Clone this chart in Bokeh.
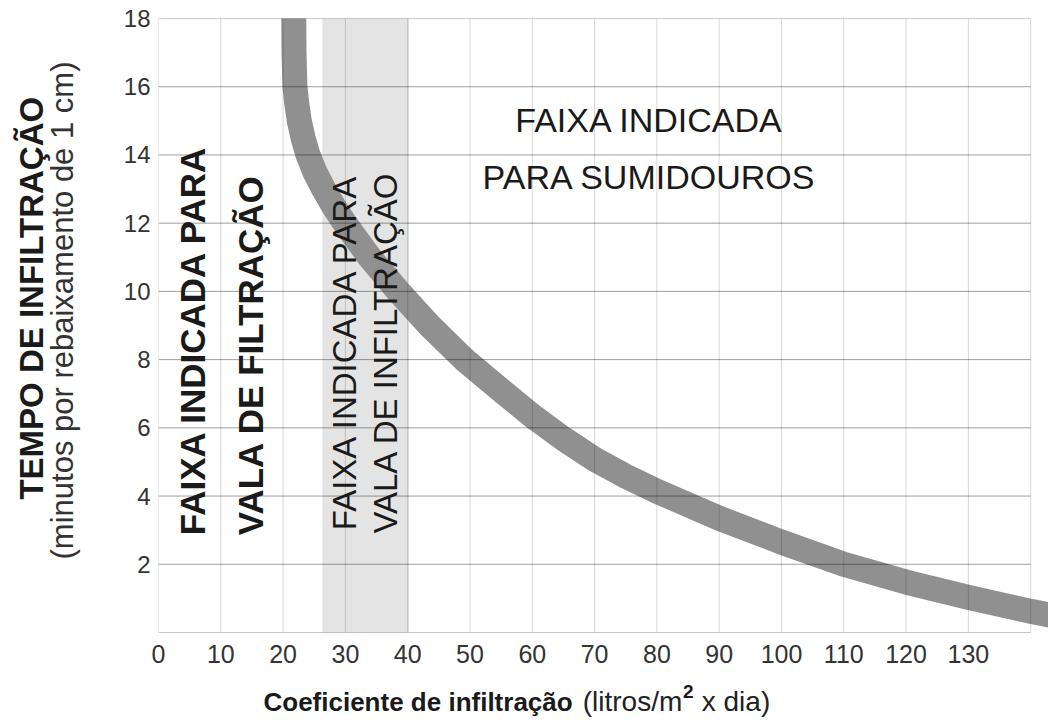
import math
from bokeh.plotting import figure
from bokeh.models import FixedTicker, Label, Range1d
from bokeh.embed import file_html
from bokeh.resources import INLINE

# ---- data ----
x_ticks = [0, 10, 20, 30, 40, 50, 60, 70, 80, 90, 100, 110, 120, 130]
x_grid = [0, 10, 20, 30, 40, 50, 60, 70, 80, 90, 100, 110, 120, 130, 140]
y_ticks = [2, 4, 6, 8, 10, 12, 14, 16, 18]

curve_x = [21.7, 21.75, 21.9, 22.2, 22.6, 23.2, 24.0, 25.1, 26.5, 28.1, 29.9, 33.9, 38.5, 43.5, 49.1,
           55.0, 60.0, 65.0, 70.0, 75.0, 80.0, 90.0, 100.0, 110.0, 120.0, 130.0, 140.0, 146.0]
curve_y = [18.4, 17.0, 16.0, 15.5, 15.0, 14.5, 14.0, 13.5, 13.0, 12.5, 12.0, 11.0, 10.0, 9.0, 8.0,
           7.1, 6.35, 5.68, 5.08, 4.58, 4.14, 3.35, 2.65, 2.0, 1.48, 1.03, 0.62, 0.4]

band_x = [26.3, 40.2]   # shaded range for "vala de infiltração"
band_y = [0, 18]

LABEL_FONT = "Liberation Sans"

p = figure(frame_width=890, frame_height=614,
           x_range=Range1d(0, 142.86), y_range=Range1d(0, 18),
           min_border_left=158, min_border_right=0, min_border_top=18, min_border_bottom=88,
           output_backend="svg", toolbar_location=None)
p.outline_line_color = None
p.xgrid.grid_line_color = None
p.ygrid.grid_line_color = None
p.background_fill_color = "white"
p.border_fill_color = "white"

# shaded band
p.quad(left=[band_x[0]], right=[band_x[1]], bottom=[band_y[0]], top=[band_y[1]],
       fill_color="#e4e4e4", line_color=None)

# curve
p.line(curve_x, curve_y, line_width=25, line_color="#909090", line_cap="butt", line_join="round")

# grid lines (vertical light, horizontal darker)
p.segment(x0=x_grid, y0=[0] * len(x_grid), x1=x_grid, y1=[18] * len(x_grid),
          line_color="black", line_alpha=0.16, line_width=1)
p.segment(x0=[0] * len(y_ticks), y0=y_ticks, x1=[140] * len(y_ticks), y1=y_ticks,
          line_color="black", line_alpha=0.38, line_width=1)
p.segment(x0=[0], y0=[0], x1=[140], y1=[0], line_color="black", line_alpha=0.45, line_width=1.2)

# axes
for ax in (p.xaxis[0], p.yaxis[0]):
    ax.axis_line_color = None
    ax.major_tick_line_color = None
    ax.minor_tick_line_color = None
    ax.major_tick_out = 0
    ax.major_tick_in = 0
    ax.major_label_text_font = LABEL_FONT
    ax.major_label_text_color = "#333333"
p.xaxis.ticker = FixedTicker(ticks=x_ticks)
p.yaxis.ticker = FixedTicker(ticks=y_ticks)
p.xaxis.major_label_text_font_size = "25px"
p.yaxis.major_label_text_font_size = "24px"
p.xaxis.major_label_standoff = 12
p.yaxis.major_label_standoff = 8

def lab(x, y, text, size, bold=False, angle=0.0, align="left", baseline="alphabetic",
        font=LABEL_FONT, color="#1a1a1a", side="center"):
    l = Label(x=x, y=y, text=text, angle=angle, text_align=align,
              text_baseline=baseline, text_font=font,
              text_font_size=size, text_font_style="bold" if bold else "normal",
              text_color=color)
    p.add_layout(l, side)

# texts inside plot
lab(78.8, 15.03, "FAIXA INDICADA", "34px", align="center")
lab(78.8, 13.34, "PARA SUMIDOUROS", "34px", align="center")
lab(5.5, 2.85, "FAIXA INDICADA PARA", "35px", bold=True, angle=math.pi / 2, baseline="middle")
lab(14.8, 2.85, "VALA DE FILTRAÇÃO", "35px", bold=True, angle=math.pi / 2, baseline="middle")
lab(29.8, 3.0, "FAIXA INDICADA PARA", "33px", angle=math.pi / 2, baseline="middle")
lab(36.4, 2.9, "VALA DE INFILTRAÇÃO", "33px", angle=math.pi / 2, baseline="middle")

# y axis title (placed in the left panel so it is not clipped)
lab(-20.4, 9.8, "TEMPO DE INFILTRAÇÃO", "33px", bold=True, angle=math.pi / 2,
    align="center", baseline="middle", side="left")
lab(-15.4, 9.44, "(minutos por rebaixamento de 1 cm)", "31px", angle=math.pi / 2,
    align="center", baseline="middle", color="#333333", side="left")

# x axis title (placed in the below panel)
lab(16.85, -2.03, "Coeficiente de infiltração", "26px", bold=True, side="below")
lab(68.1, -2.03, "(litros/m", "28px", color="#222222", side="below")
lab(84.2, -1.72, "2", "19px", bold=True, side="below")
lab(87.2, -2.03, "x dia)", "28px", color="#222222", side="below")

open("out.html", "w").write(file_html(p, INLINE))
